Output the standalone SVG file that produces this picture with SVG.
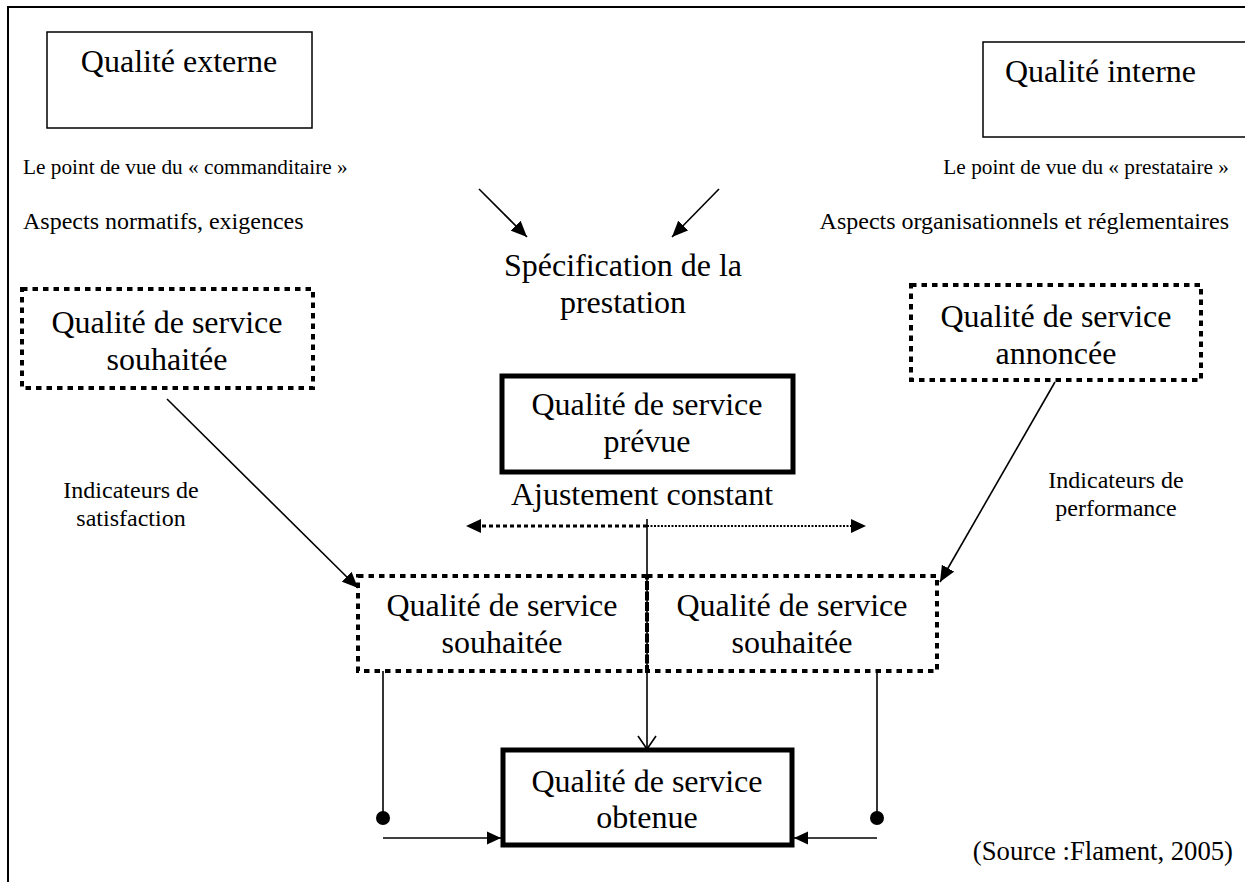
<svg xmlns="http://www.w3.org/2000/svg" width="1245" height="882" viewBox="0 0 1245 882">
<style>
text { font-family: "Liberation Serif", "Times New Roman", serif; fill: #000; }
.big { font-size: 32px; }
.mid { font-size: 24px; }
.small { font-size: 21.3px; }
.src { font-size: 26.7px; }
.c { text-anchor: middle; }
.thin { fill: #fff; stroke: #000; stroke-width: 1.5; }
.thick { fill: #fff; stroke: #000; stroke-width: 5; }
.dot { fill: none; stroke: #000; stroke-width: 4; stroke-dasharray: 5.5 5; }
.ln { fill: none; stroke: #000; stroke-width: 1.6; }
</style>
<defs>
<marker id="ah" markerUnits="userSpaceOnUse" markerWidth="18" markerHeight="14" refX="16" refY="7" orient="auto">
<path d="M0,0 L16,7 L0,14 Z" fill="#000"/>
</marker>
<marker id="ahs" markerUnits="userSpaceOnUse" markerWidth="16" markerHeight="14" refX="14" refY="7" orient="auto">
<path d="M0,0.5 L14,7 L0,13.5 Z" fill="#000"/>
</marker>
</defs>
<rect width="1245" height="882" fill="#fff"/>
<g id="frame">
<path d="M8,882 L8,7 L1245,7" fill="none" stroke="#000" stroke-width="2"/>
</g>
<g id="qualite-externe">
<rect class="thin" x="47" y="32" width="265" height="96"/>
<text class="big c" x="179" y="72">Qualité externe</text>
</g>
<g id="qualite-interne">
<rect class="thin" x="983" y="42" width="270" height="95"/>
<text class="big" x="1005" y="82">Qualité interne</text>
</g>
<g id="labels-top">
<text class="small" x="23" y="174">Le point de vue du « commanditaire »</text>
<text class="mid" x="23" y="229">Aspects normatifs, exigences</text>
<text class="small" x="1229" y="174" text-anchor="end">Le point de vue du « prestataire »</text>
<text class="mid" x="1229" y="229" text-anchor="end">Aspects organisationnels et réglementaires</text>
</g>
<g id="specification">
<text class="big c" x="623" y="276">Spécification de la</text>
<text class="big c" x="623" y="313">prestation</text>
</g>
<g id="qs-souhaitee-haut">
<rect class="dot" x="22" y="289" width="291" height="99"/>
<text class="big c" x="167" y="333">Qualité de service</text>
<text class="big c" x="167" y="370">souhaitée</text>
</g>
<g id="qs-annoncee">
<rect class="dot" x="911" y="285" width="290" height="95"/>
<text class="big c" x="1056" y="327">Qualité de service</text>
<text class="big c" x="1056" y="364">annoncée</text>
</g>
<g id="qs-prevue">
<rect class="thick" x="502" y="376" width="291" height="96"/>
<text class="big c" x="647" y="415">Qualité de service</text>
<text class="big c" x="647" y="452">prévue</text>
</g>
<g id="ajustement">
<text class="big c" x="642" y="505">Ajustement constant</text>
</g>
<g id="indicateurs-satisfaction">
<text class="mid c" x="131" y="498">Indicateurs de</text>
<text class="mid c" x="131" y="526">satisfaction</text>
</g>
<g id="indicateurs-performance">
<text class="mid c" x="1116" y="488">Indicateurs de</text>
<text class="mid c" x="1116" y="516">performance</text>
</g>
<g id="qs-souhaitee-gauche">
<rect class="dot" x="358" y="576" width="289" height="95"/>
<text class="big c" x="502" y="616">Qualité de service</text>
<text class="big c" x="502" y="653">souhaitée</text>
</g>
<g id="qs-souhaitee-droite">
<rect class="dot" x="647" y="576" width="290" height="95"/>
<text class="big c" x="792" y="616">Qualité de service</text>
<text class="big c" x="792" y="653">souhaitée</text>
</g>
<g id="qs-obtenue">
<rect class="thick" x="503" y="750" width="289" height="95"/>
<text class="big c" x="647" y="792">Qualité de service</text>
<text class="big c" x="647" y="828">obtenue</text>
</g>
<g id="source">
<text class="src" x="1233" y="860" text-anchor="end">(Source :Flament, 2005)</text>
</g>
<g id="connectors">
<line class="ln" x1="479" y1="189" x2="527" y2="237" marker-end="url(#ah)"/>
<line class="ln" x1="719" y1="189" x2="672" y2="237" marker-end="url(#ah)"/>
<line class="ln" x1="167" y1="399" x2="358" y2="588" marker-end="url(#ah)"/>
<line class="ln" x1="1055" y1="382" x2="940" y2="582" marker-end="url(#ah)"/>
<line x1="647" y1="526" x2="480" y2="526" stroke="#000" stroke-width="3" stroke-dasharray="4 3"/>
<path d="M466,526 L481,519 L481,533 Z" fill="#000"/>
<line x1="647" y1="526" x2="852" y2="526" stroke="#000" stroke-width="2" stroke-dasharray="2 1.5"/>
<path d="M866,526 L851,519 L851,533 Z" fill="#000"/>
<line class="ln" x1="647" y1="519" x2="647" y2="748"/>
<path class="ln" d="M638,736 L647,749 L656,736"/>
<line class="ln" x1="383" y1="671" x2="383" y2="818"/>
<circle cx="383" cy="818" r="7" fill="#000"/>
<line class="ln" x1="383" y1="838" x2="501" y2="838" marker-end="url(#ahs)"/>
<line class="ln" x1="877" y1="671" x2="877" y2="818"/>
<circle cx="877" cy="818" r="7" fill="#000"/>
<line class="ln" x1="877" y1="838" x2="794" y2="838" marker-end="url(#ahs)"/>
</g>
</svg>
